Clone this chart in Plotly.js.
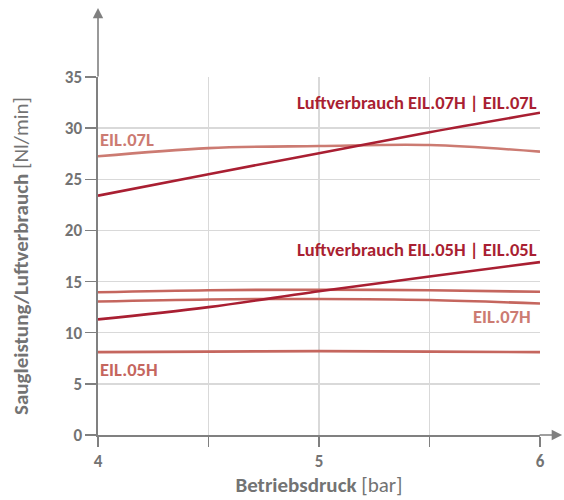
<!DOCTYPE html>
<html>
<head>
<meta charset="utf-8">
<script src="https://cdn.plot.ly/plotly-3.0.1.min.js"></script>
<style>html,body{margin:0;padding:0;background:#fff}#chart{width:564px;height:500px}</style>
</head>
<body>
<div id="chart"></div>
<script>
// Data
const pressure = [4, 4.5, 5, 5.5, 6];
const luft07 = [23.4, 25.5, 27.55, 29.6, 31.5];
const eil07L = [27.25, 28.05, 28.25, 28.35, 27.7];
const luft05 = [11.3, 12.5, 14.05, 15.5, 16.9];
const eil05L = [13.95, 14.15, 14.2, 14.15, 14.0];
const eil07H = [13.05, 13.25, 13.3, 13.2, 12.85];
const eil05H = [8.1, 8.15, 8.2, 8.15, 8.1];
const xTickVals = [4, 4.5, 5, 5.5, 6];
const xTickText = ['4', '', '5', '', '6'];
const yTickVals = [0, 5, 10, 15, 20, 25, 30, 35];

const dark = '#a91f32';
const light = '#c5665e';
const light2 = '#cc7b72';
const gray = '#737373';
const font = 'Carlito, Lato, sans-serif';

function tr(y, color){
  return {x: pressure, y: y, mode: 'lines', line: {color: color, width: 2.6, shape: 'spline'}, hoverinfo: 'skip', showlegend: false};
}
const data = [
  tr(eil05H, light), tr(eil07H, light), tr(eil05L, light), tr(eil07L, light2),
  tr(luft05, dark), tr(luft07, dark)
];

function lab(text, x, y, color, anchor){
  return {text: '<b>' + text + '</b>', x: x, y: y, xref: 'x', yref: 'y', showarrow: false,
    xanchor: anchor, yanchor: 'middle', font: {family: font, size: 18.5, color: color}};
}
const annotations = [
  lab('Luftverbrauch EIL.07H | EIL.07L', 5.995, 32.55, dark, 'right'),
  lab('EIL.07L', 4.0, 28.9, light2, 'left'),
  lab('Luftverbrauch EIL.05H | EIL.05L', 5.995, 18.1, dark, 'right'),
  lab('EIL.05L', 3.98, 15.65, light2, 'left'),
  lab('EIL.07H', 5.97, 11.6, light2, 'right'),
  lab('EIL.05H', 4.0, 6.45, light, 'left'),
  // axis arrows
  {x: 0, y: 1.193, xref: 'paper', yref: 'paper', text: '', showarrow: true, ax: 0, ay: 70,
   arrowhead: 2, arrowsize: 1.3, arrowwidth: 1.6, arrowcolor: '#808080', standoff: 0},
  {x: 1.05, y: 0, xref: 'paper', yref: 'paper', text: '', showarrow: true, ax: -24, ay: 0,
   arrowhead: 2, arrowsize: 1.3, arrowwidth: 1.6, arrowcolor: '#808080', standoff: 0}
];

const layout = {
  width: 564, height: 500,
  margin: {l: 98, r: 24, t: 77, b: 65},
  paper_bgcolor: '#fff', plot_bgcolor: '#fff',
  font: {family: font, color: gray},
  xaxis: {
    range: [4, 6], tickvals: xTickVals, ticktext: xTickText,
    showgrid: true, gridcolor: '#d9d9d9', gridwidth: 1.3,
    showline: true, linecolor: '#808080', linewidth: 1.6,
    ticks: 'outside', ticklen: 10, tickcolor: '#808080', tickwidth: 1.3,
    zeroline: false, fixedrange: true,
    tickfont: {family: font, size: 17, color: gray, weight: 'bold'},
    title: {text: '<b>Betriebsdruck</b> [bar]', font: {family: font, size: 21, color: gray}, standoff: 6}
  },
  yaxis: {
    range: [0, 35], tickvals: yTickVals,
    showgrid: true, gridcolor: '#d9d9d9', gridwidth: 1.3,
    showline: true, linecolor: '#808080', linewidth: 1.6,
    ticks: 'outside', ticklen: 11, tickcolor: '#808080', tickwidth: 1.3,
    zeroline: false, fixedrange: true,
    tickfont: {family: font, size: 17, color: gray, weight: 'bold'},
    title: {text: '<b>Saugleistung/Luftverbrauch</b> [Nl/min]', font: {family: font, size: 21, color: gray}, standoff: 30}
  },
  annotations: annotations
};

Plotly.newPlot('chart', data, layout, {displayModeBar: false, staticPlot: true});
</script>
</body>
</html>
